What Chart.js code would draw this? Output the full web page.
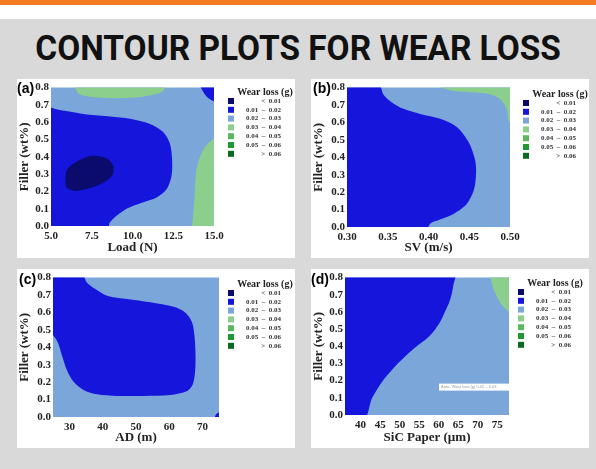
<!DOCTYPE html>
<html>
<head>
<meta charset="utf-8">
<script src="https://cdn.jsdelivr.net/npm/chart.js@4.4.1/dist/chart.umd.min.js"></script>
<style>
    body { margin: 0; width: 596px; height: 469px; background: #d9d9d9; position: relative; overflow: hidden; }
    .topbar { position: absolute; left: 0; top: 0; width: 596px; height: 5px; background: #f47a20; }
    .strip { position: absolute; left: 0; top: 5px; width: 596px; height: 14px; background: #fff; }
    .heading { position: absolute; left: 0; top: 31px; width: 596px; text-align: center; font: 700 35px/35px Roboto, sans-serif; color: #111; transform: scaleX(0.955); transform-origin: 300px 0; white-space: nowrap; }
    .panel { position: absolute; width: 278px; height: 179px; background: #fff; }
</style>
</head>
<body>
<div class="topbar"></div>
<div class="strip"></div>
<div class="heading">CONTOUR PLOTS FOR WEAR LOSS</div>
<div class="panel" style="left:17px;top:79px"><canvas id="chartA" width="278" height="179"></canvas></div>
<div class="panel" style="left:311px;top:79px"><canvas id="chartB" width="278" height="179"></canvas></div>
<div class="panel" style="left:17px;top:269px"><canvas id="chartC" width="278" height="179"></canvas></div>
<div class="panel" style="left:311px;top:269px"><canvas id="chartD" width="278" height="179"></canvas></div>

<script>
// Wear loss levels (legend)
const levelLabels = ['<  0.01', '0.01  \u2013  0.02', '0.02  \u2013  0.03', '0.03  \u2013  0.04', '0.04  \u2013  0.05', '0.05  \u2013  0.06', '>  0.06'];
const levelColors = ['#0b0b6e', '#1515dc', '#7ba6da', '#8ccf8c', '#5cb85e', '#1f9a32', '#0b6b20'];

// Filler (wt%) axis, shared
const fillerRange = [0, 0.8];
const fillerTicks = [0, 0.1, 0.2, 0.3, 0.4, 0.5, 0.6, 0.7, 0.8];

// (a) Load (N)
const loadRange = [5, 15];
const loadTicks = [5, 7.5, 10, 12.5, 15];
const loadNavy = [[5.88, 0.25], [5.98, 0.326], [6.59, 0.373], [7.5, 0.406], [8.42, 0.392], [8.83, 0.345], [8.73, 0.288], [8.01, 0.241], [7.0, 0.209], [6.39, 0.203], [5.94, 0.222]];
const loadBlue = [[5, 0.699], [5.26, 0.677], [6.38, 0.658], [7.2, 0.645], [8.63, 0.633], [9.85, 0.62], [11.07, 0.59], [11.88, 0.544], [12.29, 0.478], [12.43, 0.383], [12.39, 0.288], [12.09, 0.212], [11.48, 0.165], [10.66, 0.137], [9.64, 0.099], [8.63, 0.023], [8.42, 0], [5, 0]];
const loadBlueCorner = [[14.02, 0.8], [14.43, 0.762], [14.74, 0.734], [15, 0.709], [15, 0.8]];
const loadGreenTop = [[6.38, 0.8], [6.69, 0.766], [7.4, 0.747], [8.63, 0.739], [10.25, 0.743], [11.27, 0.758], [11.88, 0.781], [12.09, 0.8]];
const loadGreenRight = [[13.61, 0], [13.72, 0.061], [13.82, 0.193], [13.92, 0.326], [14.23, 0.421], [14.74, 0.487], [15, 0.516], [15, 0]];

// (b) SV (m/s)
const svRange = [0.3, 0.5];
const svTicks = [0.3, 0.35, 0.4, 0.45, 0.5];
const svBlue = [[0.3, 0.8], [0.3376, 0.8], [0.3449, 0.759], [0.3551, 0.715], [0.3694, 0.678], [0.3898, 0.649], [0.4143, 0.621], [0.4347, 0.574], [0.449, 0.489], [0.4571, 0.386], [0.4584, 0.311], [0.4559, 0.216], [0.4469, 0.132], [0.4306, 0.075], [0.4143, 0.043], [0.402, 0.019], [0.3959, 0], [0.3, 0]];
const svGreen = [[0.398, 0.8], [0.4265, 0.785], [0.4551, 0.772], [0.4755, 0.762], [0.4878, 0.734], [0.4959, 0.678], [0.4992, 0.602], [0.5, 0.59], [0.5, 0.8]];
const svNavy = [[0.3, 0], [0.3035, 0], [0.3, 0.014]];

// (c) AD (m)
const adRange = [25, 75];
const adTicks = [30, 40, 50, 60, 70];
const adBlue = [[25, 0.8], [33.4, 0.8], [35.2, 0.772], [37.75, 0.734], [41.3, 0.696], [47.3, 0.677], [54.3, 0.658], [61.4, 0.632], [64.9, 0.598], [66.9, 0.542], [67.7, 0.447], [67.9, 0.296], [67.2, 0.192], [65.4, 0.149], [60.3, 0.126], [52.3, 0.121], [44.3, 0.121], [38.3, 0.13], [34.2, 0.155], [31.2, 0.202], [29.2, 0.268], [27.7, 0.353], [26.2, 0.438], [25, 0.513]];
const adBlueCorner = [[73.4, 0], [74.2, 0.017], [75, 0.038], [75, 0]];

// (d) SiC Paper (um)
const sicRange = [36, 78];
const sicTicks = [40, 45, 50, 55, 60, 65, 70, 75];
const sicBlue = [[36, 0.8], [63.96, 0.8], [63.7, 0.75], [63.28, 0.7], [62.6, 0.65], [61.58, 0.6], [60.56, 0.55], [59.12, 0.5], [57.16, 0.45], [54.36, 0.4], [51.81, 0.35], [49.52, 0.3], [47.56, 0.25], [45.69, 0.2], [42.97, 0.1], [40.76, 0], [36, 0]];
const sicGreen = [[73.05, 0.8], [73.9, 0.743], [75.0, 0.686], [76.28, 0.638], [78, 0.581], [78, 0.8]];

const serif = '"Liberation Serif", "Times New Roman", serif';

// points lying on the plot border are pushed a little outside so the
// smoothed outline does not round off inside the plot
function toPoints(pts, xr, yr) {
    const dx = (xr[1] - xr[0]) * 0.04;
    const dy = (yr[1] - yr[0]) * 0.04;
    return pts.map(([x, y]) => ({
        x: x <= xr[0] ? x - dx : (x >= xr[1] ? x + dx : x),
        y: y <= yr[0] ? y - dy : (y >= yr[1] ? y + dy : y)
    }));
}

// panel tag, legend and the small hover note
const panelDecor = {
    id: 'panelDecor',
    afterDraw(chart, args, opts) {
        const { ctx, chartArea } = chart;
        ctx.save();
        ctx.fillStyle = '#000';
        ctx.font = 'bold 14px "Liberation Sans", Arial, sans-serif';
        ctx.textAlign = 'left';
        ctx.textBaseline = 'top';
        ctx.fillText(opts.tag, opts.tagX, opts.tagY);

        const lx = opts.legendX;
        ctx.textBaseline = 'middle';
        ctx.textAlign = 'center';
        ctx.fillStyle = '#222';
        ctx.font = 'bold 10px ' + serif;
        ctx.fillText('Wear loss (g)', lx + 37, opts.legendTop - 9);
        levelLabels.forEach((lab, i) => {
            const y = opts.legendTop + i * 8.8;
            ctx.fillStyle = levelColors[i];
            ctx.fillRect(lx, y - 3, 6, 6);
            ctx.fillStyle = '#333';
            ctx.textAlign = 'right';
            ctx.font = 'bold 7px ' + serif;
            ctx.fillText(lab, lx + 53, y);
        });

        if (opts.note) {
            const r = chartArea.right;
            ctx.fillStyle = '#fff';
            ctx.fillRect(r - 70, chartArea.top + 106, 70, 7);
            ctx.fillStyle = '#999';
            ctx.textAlign = 'left';
            ctx.font = '4px "Liberation Sans", sans-serif';
            ctx.fillText(opts.note, r - 68, chartArea.top + 109.5);
        }
        ctx.restore();
    }
};

function makeChart(id, cfg) {
    const datasets = cfg.regions.map((reg, i) => ({
        data: toPoints(reg.pts, cfg.xRange, fillerRange),
        backgroundColor: levelColors[reg.level],
        borderWidth: 0,
        pointRadius: 0,
        showLine: true,
        fill: 'shape',
        tension: 0.3,
        order: i
    }));
    // background level 0.02 - 0.03 covers the whole domain
    datasets.push({
        data: toPoints([[cfg.xRange[0], fillerRange[0]], [cfg.xRange[1], fillerRange[0]], [cfg.xRange[1], fillerRange[1]], [cfg.xRange[0], fillerRange[1]]], cfg.xRange, fillerRange),
        backgroundColor: levelColors[2],
        borderWidth: 0,
        pointRadius: 0,
        showLine: true,
        fill: 'shape',
        tension: 0,
        order: 99
    });

    return new Chart(document.getElementById(id).getContext('2d'), {
        type: 'scatter',
        data: { datasets },
        options: {
            responsive: false,
            animation: false,
            events: [],
            layout: { padding: { left: 0, top: cfg.top, right: cfg.right, bottom: 0 } },
            plugins: {
                legend: { display: false },
                tooltip: { enabled: false },
                panelDecor: { tag: cfg.tag, tagX: cfg.tagX, tagY: cfg.tagY, legendX: cfg.legendX, legendTop: cfg.legendTop, note: cfg.note }
            },
            scales: {
                x: {
                    type: 'linear',
                    min: cfg.xRange[0],
                    max: cfg.xRange[1],
                    afterBuildTicks: s => { s.ticks = cfg.xTicks.map(v => ({ value: v })); },
                    afterFit: s => { s.height = cfg.xH; },
                    grid: { display: false, drawTicks: false },
                    border: { display: false },
                    ticks: {
                        padding: 4,
                        color: '#222',
                        font: { family: serif, size: 11, weight: 'bold' },
                        callback: v => v.toFixed(cfg.xDigits)
                    },
                    title: {
                        display: true,
                        text: cfg.xTitle,
                        color: '#222',
                        font: { family: serif, size: 13, weight: 'bold' },
                        padding: { top: 0, bottom: 3 }
                    }
                },
                y: {
                    type: 'linear',
                    min: fillerRange[0],
                    max: fillerRange[1],
                    afterBuildTicks: s => { s.ticks = fillerTicks.map(v => ({ value: v })); },
                    afterFit: s => { s.width = cfg.yW; },
                    grid: { display: false, drawTicks: false },
                    border: { display: false },
                    ticks: {
                        padding: 2,
                        color: '#222',
                        font: { family: serif, size: 11, weight: 'bold' },
                        callback: v => v.toFixed(1)
                    },
                    title: {
                        display: true,
                        text: 'Filler (wt%)',
                        color: '#222',
                        font: { family: serif, size: 13, weight: 'bold' },
                        padding: { top: 0, bottom: 0 }
                    }
                }
            }
        },
        plugins: [panelDecor]
    });
}

makeChart('chartA', {
    tag: '(a)', tagX: 0, tagY: 3, legendX: 211, legendTop: 22,
    xRange: loadRange, xTicks: loadTicks, xDigits: 1, xTitle: 'Load (N)',
    yW: 34, xH: 32, top: 6, right: 81,
    regions: [
        { pts: loadNavy, level: 0 },
        { pts: loadBlue, level: 1 },
        { pts: loadBlueCorner, level: 1 },
        { pts: loadGreenTop, level: 3 },
        { pts: loadGreenRight, level: 3 }
    ]
});

makeChart('chartB', {
    tag: '(b)', tagX: 2, tagY: 3, legendX: 212, legendTop: 24,
    xRange: svRange, xTicks: svTicks, xDigits: 2, xTitle: 'SV (m/s)',
    yW: 36, xH: 31, top: 6, right: 79,
    regions: [
        { pts: svNavy, level: 0 },
        { pts: svBlue, level: 1 },
        { pts: svGreen, level: 3 }
    ]
});

makeChart('chartC', {
    tag: '(c)', tagX: 2, tagY: 4, legendX: 211, legendTop: 24,
    xRange: adRange, xTicks: adTicks, xDigits: 0, xTitle: 'AD (m)',
    yW: 36, xH: 31, top: 7, right: 76,
    regions: [
        { pts: adBlue, level: 1 },
        { pts: adBlueCorner, level: 1 }
    ]
});

makeChart('chartD', {
    tag: '(d)', tagX: 0, tagY: 4, legendX: 207, legendTop: 23,
    xRange: sicRange, xTicks: sicTicks, xDigits: 0, xTitle: 'SiC Paper (\u00b5m)',
    yW: 34, xH: 33, top: 6, right: 80,
    note: 'Area, Wear loss (g) 0.02 \u2013 0.03',
    regions: [
        { pts: sicBlue, level: 1 },
        { pts: sicGreen, level: 3 }
    ]
});
</script>
</body>
</html>
